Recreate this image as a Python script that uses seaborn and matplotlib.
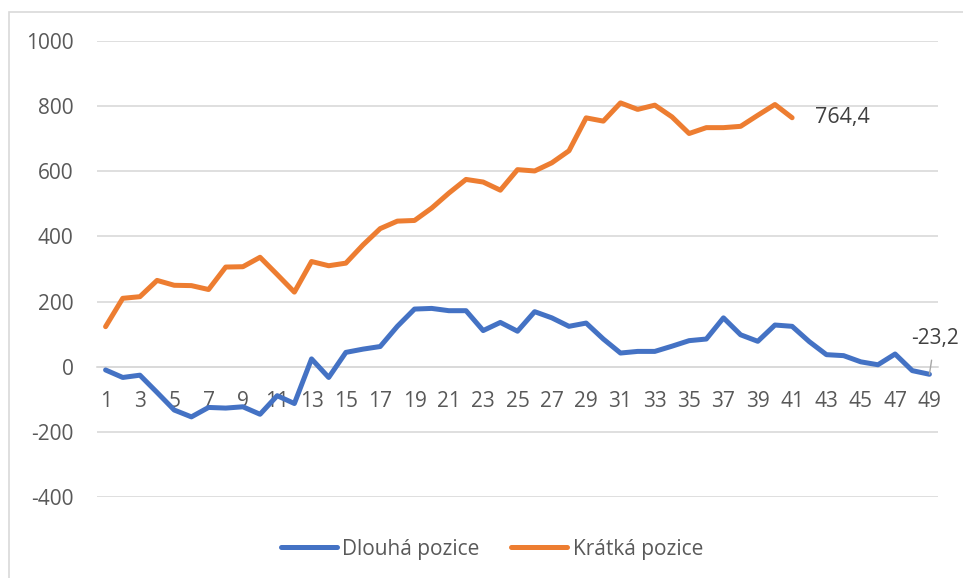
import pandas as pd
import matplotlib
matplotlib.use("Agg")
import matplotlib.pyplot as plt
import seaborn as sns
from matplotlib.patches import Rectangle

OUT_FILE = "out.png"

# data
WEEKS_LONG = list(range(1, 50))
DLOUHA = [-10, -33, -26, -79, -133, -154, -125, -127, -123, -146,
          -89, -113, 24, -33, 44, 54, 62, 124, 177, 179,
          172, 172, 111, 136, 109, 169, 150, 124, 134, 85,
          42, 47, 47, 63, 80, 85, 150, 98, 78, 128,
          124, 77, 37, 34, 15, 6, 39, -12, -23.2]

WEEKS_SHORT = list(range(1, 42))
KRATKA = [123, 210, 215, 265, 250, 249, 237, 306, 307, 336,
          283, 229, 323, 310, 318, 374, 424, 447, 449, 487,
          533, 575, 567, 542, 605, 601, 626, 663, 764, 754,
          810, 790, 803, 767, 716, 734, 734, 738, 772, 805,
          764.4]

SERIES_NAMES = ["Dlouhá pozice", "Krátká pozice"]
COLORS = ["#4472C4", "#ED7D31"]
Y_TICKS = [-400, -200, 0, 200, 400, 600, 800, 1000]
X_TICKS = WEEKS_LONG[::2]

df = pd.concat([
    pd.DataFrame({"tyden": WEEKS_LONG, "hodnota": DLOUHA, "pozice": SERIES_NAMES[0]}),
    pd.DataFrame({"tyden": WEEKS_SHORT, "hodnota": KRATKA, "pozice": SERIES_NAMES[1]}),
])

sns.set_style("white")
plt.rcParams["font.family"] = ["Open Sans", "DejaVu Sans"]

fig = plt.figure(figsize=(9.63, 5.78), dpi=100)
ax = fig.add_axes([97 / 963, 1 - 497 / 578, 841 / 963, 456 / 578])

sns.lineplot(data=df, x="tyden", y="hodnota", hue="pozice",
             palette=COLORS, linewidth=3.6, ax=ax, legend=False,
             solid_capstyle="round", solid_joinstyle="round", zorder=3)

ax.set_xlim(0.5, 49.5)
ax.set_ylim(-400, 1000)
ax.set_yticks(Y_TICKS)
ax.set_yticklabels([str(v) for v in Y_TICKS])
ax.set_xticks(X_TICKS)
ax.set_xticklabels([str(v) for v in X_TICKS])
ax.set_xlabel("")
ax.set_ylabel("")

ax.grid(axis="y", color="#D9D9D9", linewidth=1.2)
ax.grid(axis="x", visible=False)
for side in ["top", "right", "left"]:
    ax.spines[side].set_visible(False)
ax.spines["bottom"].set_position(("data", 0))
ax.spines["bottom"].set_color("#D9D9D9")
ax.spines["bottom"].set_linewidth(1.2)
ax.tick_params(axis="both", length=0, labelsize=15, labelcolor="#595959")
ax.tick_params(axis="y", pad=17)
ax.tick_params(axis="x", pad=17.5)

# data labels for the last points
ax.annotate("764,4", xy=(WEEKS_SHORT[-1], KRATKA[-1]), xytext=(16.5, 0),
            textcoords="offset points", ha="left", va="center",
            fontsize=15.5, color="#404040")
ax.annotate("-23,2", xy=(WEEKS_LONG[-1], DLOUHA[-1]), xytext=(4, 26),
            textcoords="offset points", ha="center", va="center",
            fontsize=15, color="#404040", annotation_clip=False,
            arrowprops=dict(arrowstyle="-", color="#A6A6A6", lw=1,
                            shrinkA=6, shrinkB=0))

handles = [plt.Line2D([], [], color=c, linewidth=3.6, solid_capstyle="round")
           for c in COLORS]
fig.legend(handles, SERIES_NAMES, loc="center", ncol=2,
           bbox_to_anchor=(492 / 963, 1 - 549 / 578), frameon=False,
           fontsize=15, labelcolor="#595959", handlelength=2.7,
           handletextpad=0.25, columnspacing=1.5)

# chart area border
fig.patches.append(Rectangle((9 / 963, -0.05), 1.2, 1 - 12 / 578 + 0.05,
                             transform=fig.transFigure, fill=False,
                             edgecolor="#D9D9D9", linewidth=1.2))

fig.savefig(OUT_FILE, dpi=100)
plt.close(fig)
